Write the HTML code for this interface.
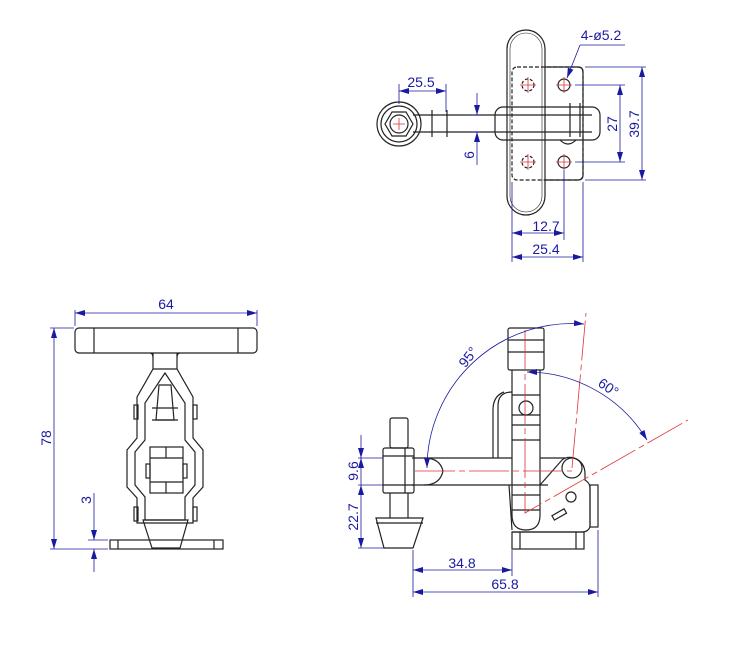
<!DOCTYPE html>
<html><head><style>
html,body{margin:0;padding:0;background:#fff;}
svg{display:block;}
text{font-family:"Liberation Sans",sans-serif;font-size:14px;fill:#1a1aa0;}
</style></head><body>
<svg width="743" height="654" viewBox="0 0 743 654" xmlns="http://www.w3.org/2000/svg">
<defs>
<marker id="a" viewBox="0 0 10 6" refX="10" refY="3" markerWidth="10" markerHeight="6" orient="auto-start-reverse" markerUnits="userSpaceOnUse"><path d="M0,0L10,3L0,6z" fill="#1a1aa0"/></marker>
</defs>
<g fill="none" stroke="#222" stroke-width="1.2">
<!-- TOP VIEW -->
<rect x="507" y="30" width="38" height="185" rx="19"/>
<rect x="510" y="33" width="32" height="179" rx="16" stroke-width="0.6"/>
<rect x="512" y="67" width="71" height="113" rx="5" stroke-dasharray="4,2"/>
<path d="M545 67H578Q583 67 583 72V175Q583 180 578 180H545"/>
<circle cx="528" cy="85" r="6" stroke-dasharray="3,2"/>
<circle cx="564" cy="85" r="6"/>
<circle cx="528" cy="162" r="6" stroke-dasharray="3,2"/>
<circle cx="564" cy="162" r="6"/>
<rect x="495" y="107" width="105" height="33" rx="8"/>
<path d="M413 115H592M413 132H592"/>
<path d="M432 110V137M447 110V137M570 103V137M580 103V137"/>
<path d="M560 140Q568 148 576 140" />
<circle cx="399" cy="124" r="22"/>
<circle cx="399" cy="124" r="18"/>
<polygon points="413,124 406,136 392,136 385,124 392,112 406,112"/>
<circle cx="399" cy="124" r="9"/>
<!-- FRONT VIEW -->
<rect x="75" y="328" width="182" height="25" rx="4"/>
<path d="M94 328V353M238 328V353"/>
<path d="M153 353V369M177 353V369M150 353Q153 353 153 358M180 353Q177 353 177 358"/>
<polygon points="153,369 177,369 193,397 193,438 203,450 203,487 193,498 193,523 137,523 137,498 127,487 127,450 137,438 137,397"/>
<polygon points="165,373 185,403 185,440 195,452 195,485 185,497 185,520 145,520 145,497 135,485 135,452 145,440 145,403"/>
<path d="M159 385H171L174 420H156Z"/>
<path d="M152 408H178M152 420H178"/>
<rect x="150" y="447" width="33" height="46"/>
<path d="M150 458H183M150 482H183M166 447V458M166 482V493"/>
<rect x="134" y="405" width="4" height="14"/><rect x="193" y="405" width="4" height="14"/>
<rect x="146" y="464" width="4" height="14"/><rect x="183" y="464" width="4" height="14"/>
<rect x="134" y="507" width="4" height="14"/><rect x="193" y="507" width="4" height="14"/>
<polygon points="143,520 188,520 180,548 152,548"/>
<rect x="110" y="540" width="113" height="9"/>
<path d="M118 540V549M214 540V549"/>
<!-- SIDE VIEW -->
<rect x="508" y="328" width="36" height="42" rx="2"/>
<path d="M508 340H544M508 352H544"/>
<path d="M512 370V515Q512 530 526 530Q540 530 540 515V370"/>
<path d="M512 395H540M512 415H540M512 425H540M512 440H540M512 485H540M512 495H540M512 510H540"/>
<circle cx="526" cy="408" r="7"/>
<path d="M512 392Q498 392 498 406V458M504 392Q493 396 493 410V458"/>
<path d="M412 458H512M412 485H512M540 458H566M540 485H548"/>
<path d="M424 458Q440 458 443 471Q440 485 424 485"/>
<path d="M540 485L562 460Q567 456 574 458Q585 462 585 474L585 480Q590 483 590 488V527Q588 532 582 532H512"/>
<circle cx="572" cy="468" r="10"/>
<circle cx="571" cy="497" r="5"/>
<rect x="552" y="512" width="14" height="5" transform="rotate(-30 559 514)"/>
<rect x="590" y="485" width="8" height="42"/>
<rect x="512" y="532" width="72" height="17"/>
<path d="M520 532V549M576 532V549"/>
<path d="M509 485L512 530"/>
<rect x="390" y="418" width="18" height="30" rx="2"/>
<rect x="383" y="448" width="31" height="45" rx="2"/>
<path d="M383 456H414M383 485H414M405 448V493"/>
<path d="M390 493V518M408 493V518"/>
<polygon points="376,518 423,518 413,548 384,548"/>
<path d="M376 523H423"/>
</g>
<g fill="none" stroke="#d33" stroke-width="0.8">
<path d="M393 124H405M399 118V130"/>
<path d="M520 85H536M528 77V93M556 85H572M564 77V93M520 162H536M528 154V170M556 162H572M564 154V170"/>
<path d="M525 330V513L688 420" stroke-dasharray="40,4,6,4"/>
<path d="M572 468L586 313" stroke-dasharray="40,4,6,4"/>
<path d="M415 471H572" stroke-dasharray="40,4,6,4"/>
</g>
<g fill="none" stroke="#1a1aa0" stroke-width="0.8">
<path d="M399 84V104M446 84V112"/>
<path d="M399 91H446" marker-start="url(#a)" marker-end="url(#a)"/>
<path d="M470 115H482M470 132H482"/>
<path d="M477 93V115" marker-end="url(#a)"/><path d="M477 165V132" marker-end="url(#a)"/>
<path d="M580 45L567 78" marker-end="url(#a)"/><path d="M580 45H625"/>
<path d="M575 85H625M575 162H625M585 67H646M585 180H646"/>
<path d="M620 85V162" marker-start="url(#a)" marker-end="url(#a)"/>
<path d="M642 67V180" marker-start="url(#a)" marker-end="url(#a)"/>
<path d="M512 182V262M564 170V240M583 182V262"/>
<path d="M512 233H564" marker-start="url(#a)" marker-end="url(#a)"/>
<path d="M512 257H583" marker-start="url(#a)" marker-end="url(#a)"/>
<path d="M75 310V326M257 310V326"/>
<path d="M75 313H257" marker-start="url(#a)" marker-end="url(#a)"/>
<path d="M50 328H74M50 549H108"/>
<path d="M54 328V549" marker-start="url(#a)" marker-end="url(#a)"/>
<path d="M88 540H108"/>
<path d="M94 493V540" marker-end="url(#a)"/><path d="M94 572V549" marker-end="url(#a)"/>
<path d="M358 458H383M358 485H383M358 548H384"/>
<path d="M361 435V458" marker-end="url(#a)"/><path d="M361 485V458" marker-end="url(#a)"/>
<path d="M361 485V548" marker-start="url(#a)" marker-end="url(#a)"/>
<path d="M413 550V597M512 550V576M598 530V597"/>
<path d="M413 570H512" marker-start="url(#a)" marker-end="url(#a)"/>
<path d="M413 592H598" marker-start="url(#a)" marker-end="url(#a)"/>
<path d="M584 324A145 145 0 0 0 427 468" marker-start="url(#a)" marker-end="url(#a)"/>
<path d="M527 372A141 141 0 0 1 647 440" marker-start="url(#a)" marker-end="url(#a)"/>
</g>
<g text-anchor="middle">
<text x="421" y="87">25.5</text>
<text x="474" y="155" transform="rotate(-90 474 155)">6</text>
<text x="601" y="40">4-ø5.2</text>
<text x="617" y="124" transform="rotate(-90 617 124)">27</text>
<text x="639" y="124" transform="rotate(-90 639 124)">39.7</text>
<text x="546" y="231">12.7</text>
<text x="546" y="254">25.4</text>
<text x="166" y="309">64</text>
<text x="51" y="438" transform="rotate(-90 51 438)">78</text>
<text x="91" y="500" transform="rotate(-90 91 500)">3</text>
<text x="358" y="471" transform="rotate(-90 358 471)">9.6</text>
<text x="358" y="517" transform="rotate(-90 358 517)">22.7</text>
<text x="462" y="568">34.8</text>
<text x="505" y="589">65.8</text>
<text x="468" y="362" transform="rotate(-52 468 357)">95°</text>
<text x="608" y="392" transform="rotate(35 608 388)">60°</text>
</g>
</svg>
</body></html>
